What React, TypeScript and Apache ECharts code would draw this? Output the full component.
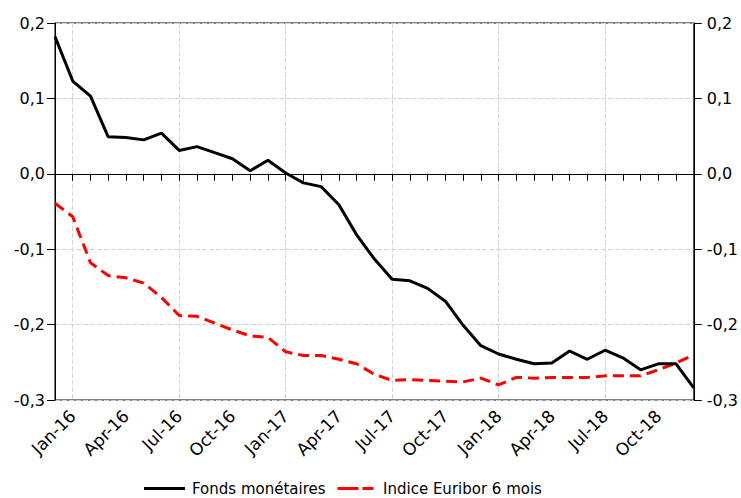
import React, { useEffect, useRef } from "react";
import * as echarts from "echarts";

const categories = [
  "Dec-15",
  "Jan-16", "Feb-16", "Mar-16", "Apr-16", "May-16", "Jun-16",
  "Jul-16", "Aug-16", "Sep-16", "Oct-16", "Nov-16", "Dec-16",
  "Jan-17", "Feb-17", "Mar-17", "Apr-17", "May-17", "Jun-17",
  "Jul-17", "Aug-17", "Sep-17", "Oct-17", "Nov-17", "Dec-17",
  "Jan-18", "Feb-18", "Mar-18", "Apr-18", "May-18", "Jun-18",
  "Jul-18", "Aug-18", "Sep-18", "Oct-18", "Nov-18", "Dec-18",
];

const fondsMonetaires = [
  0.182,
  0.123, 0.103, 0.049, 0.048, 0.045, 0.054,
  0.031, 0.036, 0.028, 0.020, 0.004, 0.018,
  0.001, -0.012, -0.017, -0.041, -0.081, -0.113,
  -0.140, -0.142, -0.152, -0.169, -0.201, -0.228,
  -0.239, -0.246, -0.252, -0.251, -0.235, -0.246,
  -0.234, -0.244, -0.260, -0.252, -0.252, -0.284,
];

const euribor6m = [
  -0.039,
  -0.057, -0.118, -0.135, -0.138, -0.145, -0.164,
  -0.188, -0.189, -0.198, -0.207, -0.215, -0.217,
  -0.236, -0.241, -0.241, -0.246, -0.252, -0.266,
  -0.274, -0.273, -0.274, -0.275, -0.276, -0.271,
  -0.280, -0.270, -0.271, -0.270, -0.270, -0.270,
  -0.268, -0.268, -0.268, -0.260, -0.251, -0.240,
];

const seriesNames = ["Fonds monétaires", "Indice Euribor 6 mois"];

const FONT = "DejaVu Sans";

const fmt = (v: number) => v.toFixed(1).replace(".", ",");

export default function App() {
  const ref = useRef<HTMLDivElement>(null);
  useEffect(() => {
    if (!ref.current) return;
    const chart = echarts.init(ref.current, undefined, { renderer: "svg" });
    const yAxisCommon = {
      type: "value",
      min: -0.3,
      max: 0.2,
      interval: 0.1,
      axisLine: { show: true, lineStyle: { color: "#000", width: 1 } },
      axisTick: { show: true, inside: false, length: 8, lineStyle: { color: "#000" } },
    };
    chart.setOption({
      animation: false,
      backgroundColor: "#fff",
      grid: {
        left: 55,
        right: 44,
        top: 23,
        bottom: 98,
        show: true,
        borderColor: "#000",
        borderWidth: 1,
        backgroundColor: "transparent",
      },
      legend: {
        top: 481,
        left: 144,
        padding: 0,
        itemWidth: 41,
        itemHeight: 3,
        itemGap: 12,
        symbolKeepAspect: true,
        textStyle: { fontFamily: FONT, fontSize: 15, color: "#000", padding: [0, 0, 0, 2] },
        data: [
          {
            name: seriesNames[0],
            icon: "path://M0,0h41v3h-41z",
            itemStyle: { color: "#000" },
          },
          {
            name: seriesNames[1],
            icon: "path://M0,0h21v3h-21z M25,0h11v3h-11z",
            itemStyle: { color: "#ff0000" },
          },
        ],
      },
      xAxis: {
        type: "category",
        data: categories,
        boundaryGap: false,
        axisLine: { show: true, lineStyle: { color: "#000", width: 1 } },
        axisTick: { show: true, interval: 0, length: 7, lineStyle: { color: "#000" } },
        axisLabel: {
          interval: (i: number) => i % 3 === 1,
          rotate: 45,
          margin: 13,
          fontFamily: FONT,
          fontSize: 17,
          color: "#000",
        },
        splitLine: {
          show: true,
          interval: (i: number) => i % 6 === 1,
          lineStyle: { color: "#d4d4d4", type: [5, 2], width: 1 },
        },
      },
      yAxis: [
        {
          ...yAxisCommon,
          position: "left",
          axisLabel: {
            formatter: fmt,
            margin: 10,
            fontFamily: FONT,
            fontSize: 16,
            color: "#000",
          },
          splitLine: {
            show: true,
            lineStyle: { color: "#d4d4d4", type: [5, 2], width: 1 },
          },
        },
        {
          ...yAxisCommon,
          position: "right",
          axisLabel: {
            formatter: fmt,
            margin: 13,
            fontFamily: FONT,
            fontSize: 16,
            color: "#000",
          },
          splitLine: { show: false },
        },
      ],
      series: [
        {
          name: seriesNames[0],
          type: "line",
          data: fondsMonetaires,
          yAxisIndex: 0,
          symbol: "none",
          lineStyle: { color: "#000", width: 3 },
          itemStyle: { color: "#000" },
          z: 3,
        },
        {
          name: seriesNames[1],
          type: "line",
          data: euribor6m,
          yAxisIndex: 0,
          symbol: "none",
          lineStyle: { color: "#ff0000", width: 3, type: [11, 6] },
          itemStyle: { color: "#ff0000" },
          z: 2,
        },
      ],
    });
    return () => chart.dispose();
  }, []);
  return <div ref={ref} style={{ width: 741, height: 498, position: "absolute", left: 0, top: 0 }} />;
}
